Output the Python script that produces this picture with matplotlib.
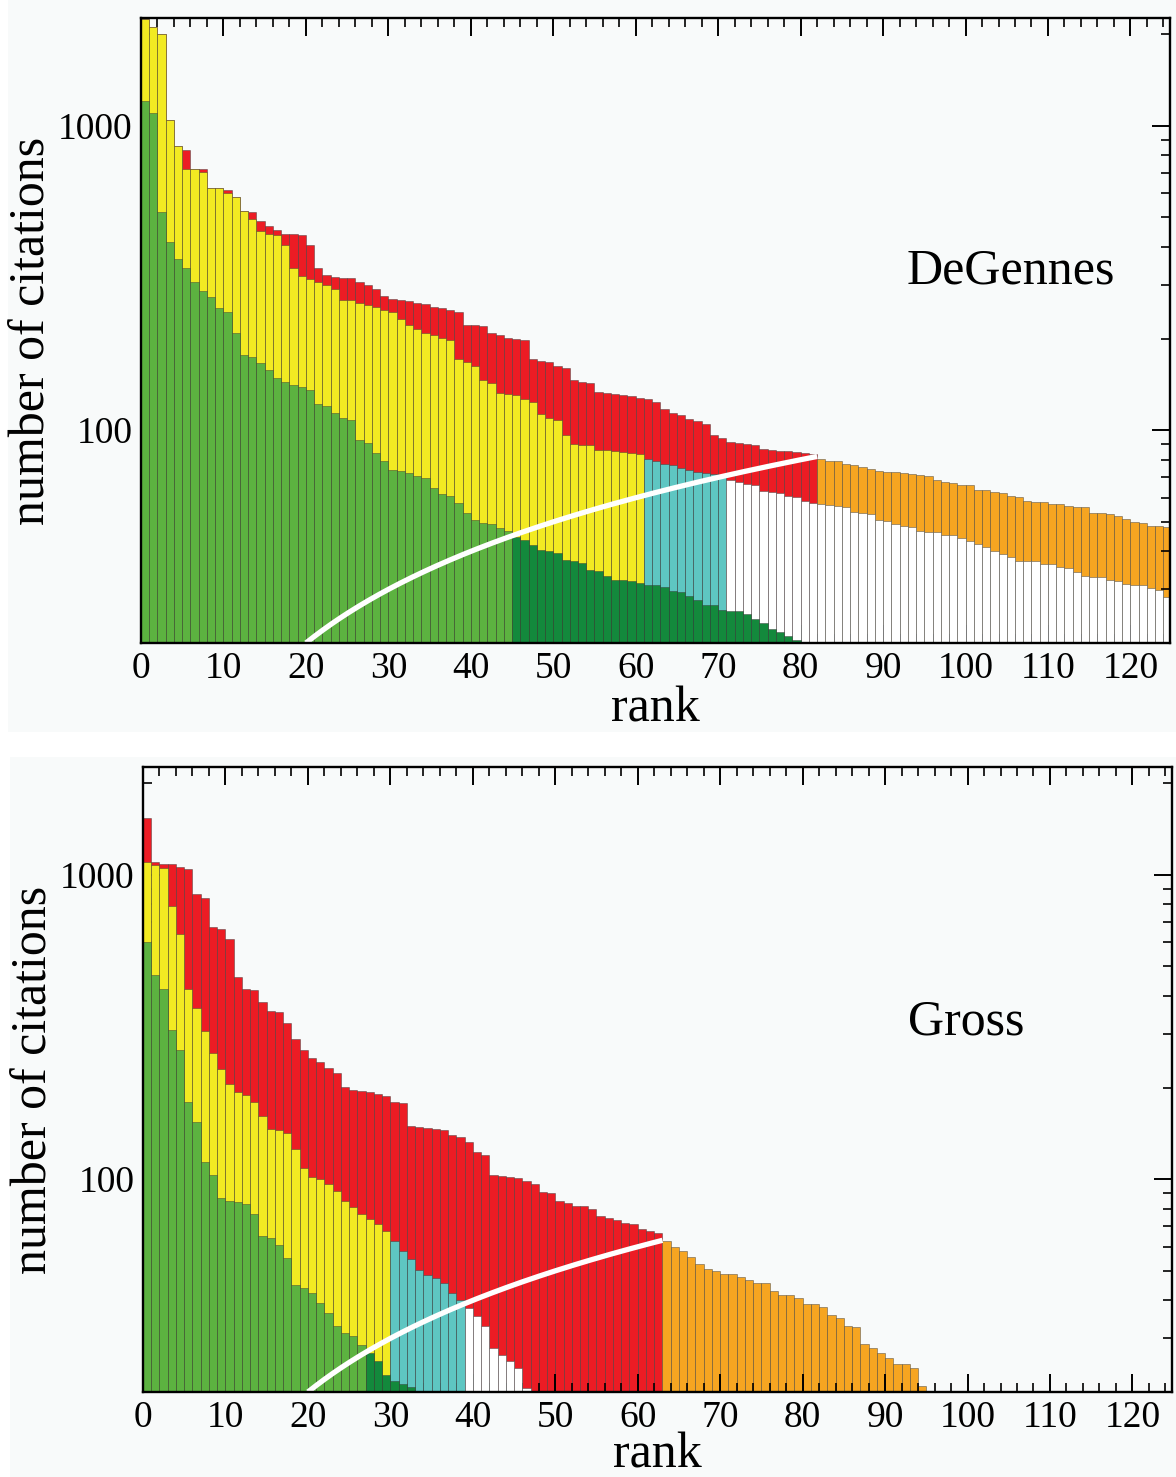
import numpy as np
import matplotlib
matplotlib.use("Agg")
import matplotlib.pyplot as plt
from matplotlib.patches import Rectangle
from matplotlib.ticker import MultipleLocator, FixedLocator, NullFormatter, FixedFormatter

# ---------------- data (citations per rank) ----------------
dg_total = [2238, 2104, 2009, 1048, 858, 831, 723, 720, 627, 625,
            616, 584, 524, 521, 487, 469, 454, 442, 440, 437,
            407, 341, 323, 319, 316, 316, 307, 299, 292, 277,
            270, 268, 266, 261, 259, 254, 253, 248, 245, 221,
            221, 220, 208, 205, 201, 200, 198, 172, 169, 167,
            162, 160, 146, 144, 143, 134, 133, 132, 131, 130,
            128, 127, 124, 117, 114, 112, 109, 107, 105, 96.5,
            94.6, 91.8, 90.6, 90.2, 89.5, 86.9, 85.8, 85.5, 85.2, 84.7,
            84.3, 83.4, 80.5, 79.3, 79.0, 77.4, 76.6, 75.5, 74.7, 73.2,
            72.8, 72.7, 72.3, 71.7, 71.2, 70.5, 68.4, 67.5, 67.3, 66.2,
            66.0, 63.7, 63.4, 62.5, 62.3, 60.6, 60.3, 58.4, 58.3, 58.2,
            57.3, 57.2, 56.2, 56.1, 56.0, 53.4, 53.3, 53.0, 52.1, 51.2,
            49.8, 49.6, 48.4, 48.3, 48.2]
dg_middle = [2238, 2104, 2009, 1048, 858, 723, 720, 705, 627, 623,
             600, 584, 524, 495, 450, 442, 437, 405, 341, 321,
             315, 307, 299, 292, 268, 267, 261, 258, 254, 248,
             245, 232, 221, 215, 208, 206, 201, 198, 172, 168,
             162, 146, 143, 133, 132, 131, 127, 124, 113, 109.5,
             108, 96.5, 90.2, 89.5, 89.3, 86.2, 85.8, 85.2, 84.7, 84.1,
             83.6, 80.5, 79.0, 77.5, 76.6, 75.1, 74.1, 72.8, 72.3, 71.7,
             71.0, 68.7, 67.5, 66.5, 66.2, 63.2, 62.6, 62.1, 60.6, 60.2,
             58.6, 57.6, 57.2, 56.6, 56.2, 56.0, 53.8, 53.4, 53.0, 50.8,
             50.2, 49.2, 48.4, 48.0, 46.6, 46.3, 46.2, 45.4, 45.2, 44.2,
             43.2, 42.3, 41.2, 40.2, 39.2, 38.2, 37.3, 37.2, 37.1, 36.4,
             36.3, 35.5, 35.3, 34.2, 33.1, 33.0, 32.9, 32.3, 32.0, 31.3,
             31.1, 31.0, 30.3, 29.9, 28.3]
dg_lower = [1210, 1100, 520, 416, 366, 342, 307, 286, 274, 253,
            245, 208, 177, 174, 166, 158, 148, 144, 141, 139,
            136, 122, 120, 114, 109.5, 108, 93, 90.6, 84.1, 79.3,
            74.1, 73.2, 72.3, 70.8, 69.6, 64.5, 61.8, 60.6, 57.6, 53.4,
            50.8, 49.6, 49.2, 47.7, 46.8, 44.5, 43.7, 42.1, 40.5, 40.0,
            39.5, 37.6, 37.1, 36.6, 34.8, 34.4, 33.1, 32.3, 32.2, 31.9,
            31.5, 31.1, 31.0, 30.5, 29.6, 29.5, 28.5, 27.6, 26.7, 26.6,
            25.6, 25.5, 25.4, 24.9, 24.0, 23.3, 22.3, 21.8, 21.1, 20.5]

gr_total = [1532, 1103, 1088, 1085, 1057, 1042, 866, 841, 675, 664,
            615, 462, 420, 418, 382, 357, 355, 325, 288, 266,
            250, 243, 232, 223, 201, 196, 195, 194, 190, 188,
            180, 178, 149, 148, 147, 146, 145, 140, 138, 133,
            123, 120, 103, 102.8, 102, 100.8, 98.3, 96.3, 90.6, 90.4,
            84.5, 83.4, 81.8, 81.6, 79.7, 75.8, 74.5, 73.6, 71.7, 71.5,
            68.7, 67.4, 66.5, 62.5, 59.8, 57.9, 55.5, 52.8, 50.8, 49.8,
            48.8, 48.7, 47.7, 46.8, 45.7, 45.6, 42.8, 41.7, 41.6, 40.7,
            38.9, 38.8, 38.0, 35.9, 35.0, 32.9, 32.8, 28.8, 27.9, 26.9,
            25.9, 24.8, 24.7, 23.9, 20.9]
gr_middle = [1100, 1078, 1052, 790, 640, 420, 364, 306, 259, 231,
             206, 193, 189, 180, 161, 146, 145, 142, 126, 109,
             102, 100, 96.5, 91.5, 85, 81, 77, 74, 71, 67.4,
             62.5, 57.9, 54.5, 50.5, 48.6, 47.4, 45.6, 42.3, 40.1, 37.8,
             35.6, 32.9, 27.9, 26.5, 25.3, 24.0, 20.6]
gr_lower = [600, 470, 420, 310, 265, 180, 154, 114, 103, 86.9,
            84.5, 84, 83, 77, 64.9, 64.1, 60.9, 55.1, 45.0, 44.0,
            42.3, 39.2, 36.4, 33.0, 31.3, 30.6, 28.6, 26.9, 25.3, 22.8,
            21.7, 21.2, 20.7]

# colour-change ranks (last rank of each colour)
dg_bounds = dict(h=82, yellow=61, cyan=71, green=45)
gr_bounds = dict(h=63, yellow=30, cyan=39, green=27)

xtick_labels = ["0", "10", "20", "30", "40", "50", "60", "70", "80", "90", "100", "110", "120"]
ytick_values = [100, 1000]
ytick_labels = ["100", "1000"]

# ---------------- style ----------------
RED = "#EC1C24"
ORANGE = "#F6A521"
YELLOW = "#F2EA22"
CYAN = "#5EC6C2"
WHITE = "#FFFFFF"
GREEN = "#5CB240"
DKGREEN = "#13893C"
BG = "#F8FAFA"
EDGE = (0.2, 0.2, 0.2, 0.5)

plt.rcParams["font.family"] = ["Liberation Serif", "DejaVu Serif"]

fig = plt.figure(figsize=(11.76, 14.77), dpi=100, facecolor="white")
fig.patches.append(Rectangle((8 / 1176, (1477 - 732) / 1477), 1 - 8 / 1176, 732 / 1477,
                             transform=fig.transFigure, facecolor=BG, edgecolor="none", zorder=-10))
fig.patches.append(Rectangle((10 / 1176, 0), 1 - 10 / 1176, 720 / 1477,
                             transform=fig.transFigure, facecolor=BG, edgecolor="none", zorder=-10))


def draw_panel(ax, total, middle, lower, b, name, name_pos, xlabel_y):
    ax.set_facecolor(BG)
    r_t = np.arange(1, len(total) + 1)
    r_m = np.arange(1, len(middle) + 1)
    r_l = np.arange(1, len(lower) + 1)
    c_t = [RED if r <= b["h"] else ORANGE for r in r_t]
    c_m = [YELLOW if r <= b["yellow"] else (CYAN if r <= b["cyan"] else WHITE) for r in r_m]
    c_l = [GREEN if r <= b["green"] else DKGREEN for r in r_l]
    for r, v, c, z in ((r_t, total, c_t, 1), (r_m, middle, c_m, 2), (r_l, lower, c_l, 3)):
        v = np.asarray(v, dtype=float)
        ax.bar(r - 1, v - 1, bottom=1, width=1, align="edge", color=c,
               edgecolor=EDGE, linewidth=0.6, zorder=z)
    xs = np.linspace(20, b["h"], 300)
    ax.plot(xs, xs, color="white", lw=3.8, solid_capstyle="butt", zorder=6)

    ax.set_yscale("log")
    ax.set_ylim(20, 2260)
    ax.set_xlim(0, 124.8)
    ax.xaxis.set_major_locator(FixedLocator(np.arange(0, 121, 10)))
    ax.xaxis.set_major_formatter(FixedFormatter(xtick_labels))
    ax.xaxis.set_minor_locator(MultipleLocator(2))
    ax.yaxis.set_major_locator(FixedLocator(ytick_values))
    ax.yaxis.set_major_formatter(FixedFormatter(ytick_labels))
    minors = [m * d for d in (10, 100, 1000) for m in range(2, 10) if 20 <= m * d <= 2260]
    ax.yaxis.set_minor_locator(FixedLocator(minors))
    ax.yaxis.set_minor_formatter(NullFormatter())
    ax.tick_params(which="major", direction="in", top=True, right=True,
                   length=13, width=1.4, labelsize=27, pad=6)
    ax.tick_params(which="minor", direction="in", top=True, right=True,
                   length=6.5, width=1.2)
    for s in ax.spines.values():
        s.set_linewidth(1.7)
        s.set_zorder(10)
    ax.set_ylabel("number of citations", fontsize=36)
    ax.yaxis.set_label_coords(-0.083, 0.5)
    ax.set_xlabel("rank", fontsize=36)
    ax.xaxis.set_label_coords(0.5, xlabel_y)
    ax.xaxis.label.set_va("top")
    ax.text(name_pos[0], name_pos[1], name, transform=ax.transAxes,
            fontsize=36, ha="center", va="center", zorder=12)


ax1 = fig.add_axes([141 / 1176, (1477 - 643) / 1477, 1029 / 1176, 625 / 1477])
draw_panel(ax1, dg_total, dg_middle, dg_lower, dg_bounds, "DeGennes", (0.845, 0.594), -0.068)

ax2 = fig.add_axes([143 / 1176, (1477 - 1392) / 1477, 1029 / 1176, 625 / 1477])
draw_panel(ax2, gr_total, gr_middle, gr_lower, gr_bounds, "Gross", (0.800, 0.591), -0.064)

fig.savefig("out.png", dpi=100, facecolor=fig.get_facecolor())
